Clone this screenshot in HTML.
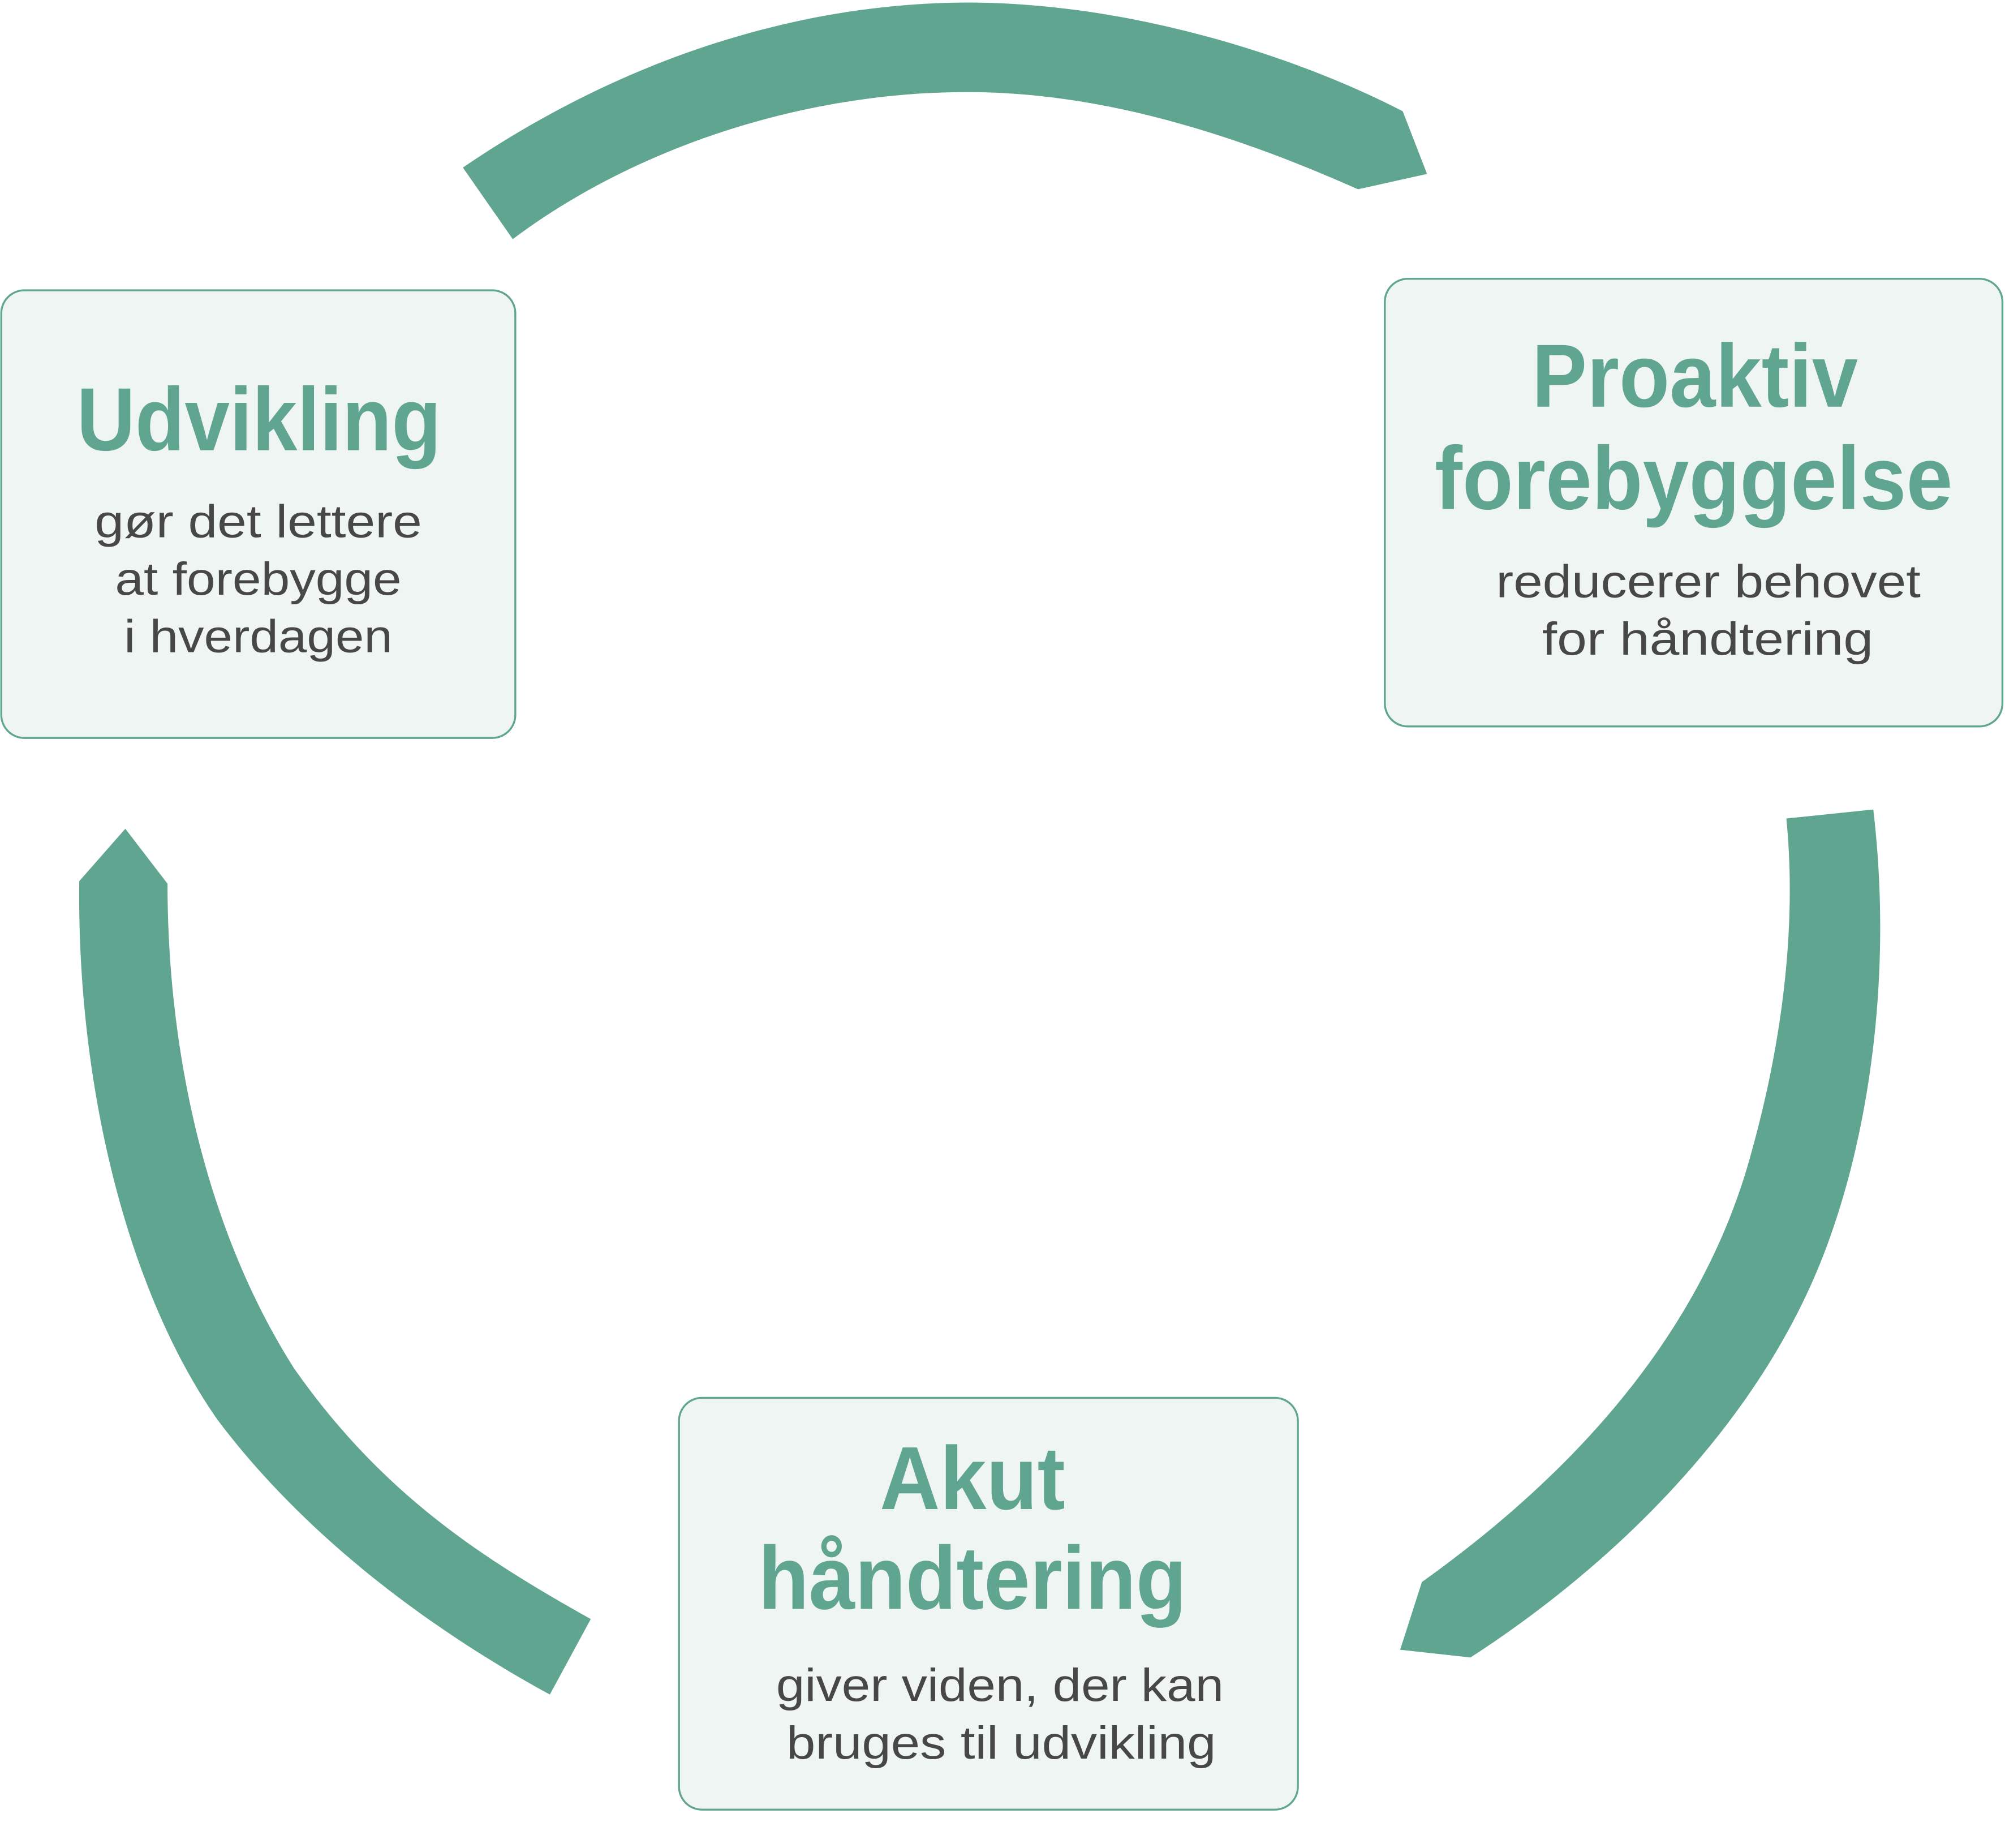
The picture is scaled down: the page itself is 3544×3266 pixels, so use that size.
<!DOCTYPE html>
<html><head><meta charset="utf-8"><style>html,body{margin:0;padding:0;background:#fff}svg{display:block}</style></head>
<body>
<svg width="3544" height="3266" viewBox="0 0 1568 1445" preserveAspectRatio="none" xmlns="http://www.w3.org/2000/svg">
<g fill="#5fa590">
<path d="M362,131 C500,37 640,2 757,2 C880,2 1010,42 1097,87 L1116,136 L1062,148 C950,98 850,72 757,72 C620,72 490,120 401,187 Z"/>
<path d="M1465,633 C1480,760 1462,880 1432,965 C1382,1110 1260,1225 1150,1296 L1095,1290 L1112,1237 C1220,1160 1330,1050 1370,900 C1395,810 1405,720 1397,640 Z"/>
<path d="M98,648 L131,691 C131,820 160,960 230,1070 C300,1170 380,1220 462,1266 L430,1325 C320,1265 230,1190 170,1110 C100,1010 60,850 62,689 Z"/>
</g>
<g fill="#eff5f2" stroke="#5fa590" stroke-width="1.5">
<rect x="1" y="227" width="402" height="350" rx="18"/>
<rect x="1083" y="218" width="483" height="350" rx="18"/>
<rect x="531" y="1093" width="484" height="322" rx="18"/>
</g>
<g font-family="Liberation Sans, sans-serif" font-weight="bold" fill="#5fa590" font-size="70">
<text x="60" y="352" textLength="285" lengthAdjust="spacingAndGlyphs">Udvikling</text>
<text x="1198" y="318" textLength="255" lengthAdjust="spacingAndGlyphs">Proaktiv</text>
<text x="1122" y="398" textLength="405" lengthAdjust="spacingAndGlyphs">forebyggelse</text>
<text x="688" y="1180" textLength="145" lengthAdjust="spacingAndGlyphs">Akut</text>
<text x="593" y="1258" textLength="335" lengthAdjust="spacingAndGlyphs">håndtering</text>
</g>
<g font-family="Liberation Sans, sans-serif" fill="#474747" font-size="36">
<text x="74" y="420" textLength="256" lengthAdjust="spacingAndGlyphs">gør det lettere</text>
<text x="90" y="465" textLength="224" lengthAdjust="spacingAndGlyphs">at forebygge</text>
<text x="97" y="510" textLength="210" lengthAdjust="spacingAndGlyphs">i hverdagen</text>
<text x="1170" y="467" textLength="332" lengthAdjust="spacingAndGlyphs">reducerer behovet</text>
<text x="1206" y="512" textLength="259" lengthAdjust="spacingAndGlyphs">for håndtering</text>
<text x="607" y="1330" textLength="350" lengthAdjust="spacingAndGlyphs">giver viden, der kan</text>
<text x="615" y="1375" textLength="336" lengthAdjust="spacingAndGlyphs">bruges til udvikling</text>
</g>
</svg>
</body></html>
